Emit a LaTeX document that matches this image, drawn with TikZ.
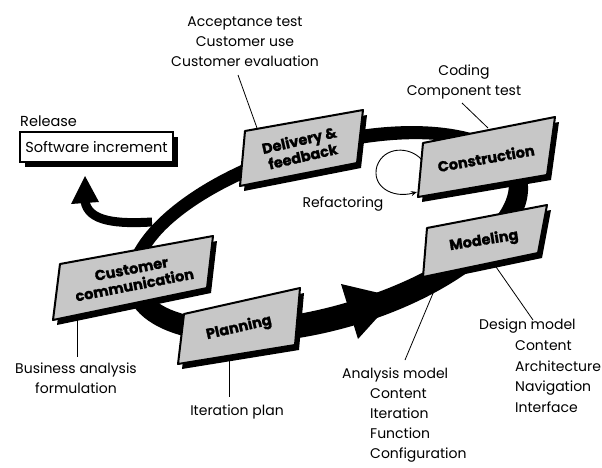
\documentclass[tikz,border=0pt]{standalone}
\usepackage{fontspec}
\setmainfont{Poppins}
\newfontfamily\heavy[BoldFeatures={FakeBold=1.3}]{Poppins}
\usetikzlibrary{arrows.meta,shadows}
\begin{document}
\begin{tikzpicture}[x=1pt,y=-1pt,
  lab/.style={font=\fontsize{14}{20}\selectfont, inner sep=0pt, align=center},
  boxtext/.style={font=\heavy\bfseries\fontsize{14.5}{16.5}\selectfont, align=center, inner sep=0pt},
  face/.style={fill=black!22, draw=black, line width=2pt, line join=round},
  shade/.style={fill=black},
  lead/.style={line width=0.8pt},
  swbox/.style={draw, fill=white, line width=1.4pt, minimum width=153pt, minimum height=30pt, inner sep=0pt,
    font=\fontsize{14.5}{15}\selectfont,
    drop shadow={shadow xshift=5pt, shadow yshift=-5pt, fill=black, opacity=1}}]
\useasboundingbox (0,0) rectangle (602,468);
\fill[white] (0,0) rectangle (602,468);

% ring
\fill[black, even odd rule, rotate around={16.35:(326,232)}]
  (326,234.5) ellipse [x radius=208pt, y radius=95pt]
  (326,229.5) ellipse [x radius=190pt, y radius=76pt];
% arrowhead on ring
\coordinate (ah1) at (341,284);
\coordinate (ah2) at (396,297);
\coordinate (ah3) at (358,339);
\fill[black] (ah1) -- (ah2) -- (ah3) -- cycle;

% branch to software increment
\node[swbox] (sw) at (96.5,147) {Software increment};
\node[lab, anchor=west, font=\fontsize{14.5}{15}\selectfont] (rel) at (20,121) {Release};
\coordinate (br0) at (152,222);
\coordinate (br1) at (85,201);
\coordinate (brt) at (85,176);
\draw[line width=9pt] (br0) .. controls (118,224) and (88,222) .. (br1);
\fill[black] (71,204) -- (99,202) -- (brt) -- cycle;

% slabs
\newcommand{\slab}[4]{%
  \fill[shade] ([shift={(4,5)}]#1) -- ([shift={(4,5)}]#2) -- ([shift={(4,5)}]#3) -- ([shift={(4,5)}]#4) -- cycle;
  \filldraw[face] (#1) -- (#2) -- (#3) -- (#4) -- cycle;}

\coordinate (d1) at (245,131); \coordinate (d2) at (363,110);
\coordinate (d3) at (357,163); \coordinate (d4) at (240,186);
\slab{d1}{d2}{d3}{d4}
\node[boxtext, rotate=13] (deliv) at (301,148) {Delivery \&\\feedback};

\coordinate (c1) at (423,143); \coordinate (c2) at (555,117);
\coordinate (c3) at (547,175); \coordinate (c4) at (418,197);
\slab{c1}{c2}{c3}{c4}
\node[boxtext, rotate=10] (cons) at (486,158) {Construction};

\coordinate (m1) at (427,228); \coordinate (m2) at (547,205);
\coordinate (m3) at (538,253); \coordinate (m4) at (423,277);
\slab{m1}{m2}{m3}{m4}
\node[boxtext, rotate=9] (model) at (484,241) {Modeling};

\coordinate (u1) at (60,264); \coordinate (u2) at (213,236);
\coordinate (u3) at (207,288); \coordinate (u4) at (53,320);
\slab{u1}{u2}{u3}{u4}
\node[boxtext, rotate=11] (cust) at (133,277) {Customer\\communication};

\coordinate (p1) at (184,314); \coordinate (p2) at (300,288);
\coordinate (p3) at (295,345); \coordinate (p4) at (178,364);
\slab{p1}{p2}{p3}{p4}
\node[boxtext, rotate=13] (plan) at (239,328) {Planning};

% refactoring loop
\coordinate (rf0) at (422,160);
\coordinate (rf1) at (417,192);
\draw[line width=0.9pt, -{Stealth[length=6pt,width=5pt]}] (rf0) .. controls (410,146) and (384,146) .. (377,166)
  .. controls (371,186) and (392,199) .. (rf1);
\node[lab] (refac) at (343,204) {Refactoring};

% labels
\node[lab] (acc) at (245,42) {Acceptance test\\Customer use\\Customer evaluation};
\node[lab] (cod) at (464,82) {Coding\\Component test};
\node[lab] (bus) at (76,378) {Business analysis\\formulation};
\node[lab] (iter) at (237,412) {Iteration plan};
\node[lab, align=left, anchor=north west] (ana) at (342,368) {Analysis model\\\hspace*{28pt}Content\\\hspace*{28pt}Iteration\\\hspace*{28pt}Function\\\hspace*{28pt}Configuration};
\node[lab, align=left, anchor=north west, font=\fontsize{14}{20.7}\selectfont] (des) at (479,319) {Design model\\\hspace*{36pt}Content\\\hspace*{36pt}Architecture\\\hspace*{36pt}Navigation\\\hspace*{36pt}Interface};

% leaders
\coordinate (ld1) at (257,128); \coordinate (ld2) at (238,75);
\draw[lead] (ld1) -- (ld2);
\coordinate (lc1) at (488,128); \coordinate (lc2) at (462,103);
\draw[lead] (lc1) -- (lc2);
\coordinate (lu1) at (77,318); \coordinate (lu2) at (77,357);
\draw[lead] (lu1) -- (lu2);
\coordinate (lp1) at (229,358); \coordinate (lp2) at (229,397);
\draw[lead] (lp1) -- (lp2);
\coordinate (la1) at (439,279); \coordinate (la2) at (405,360);
\draw[lead] (la1) -- (la2);
\coordinate (lm1) at (494,264); \coordinate (lm2) at (533,320);
\draw[lead] (lm1) -- (lm2);
\end{tikzpicture}
\end{document}
